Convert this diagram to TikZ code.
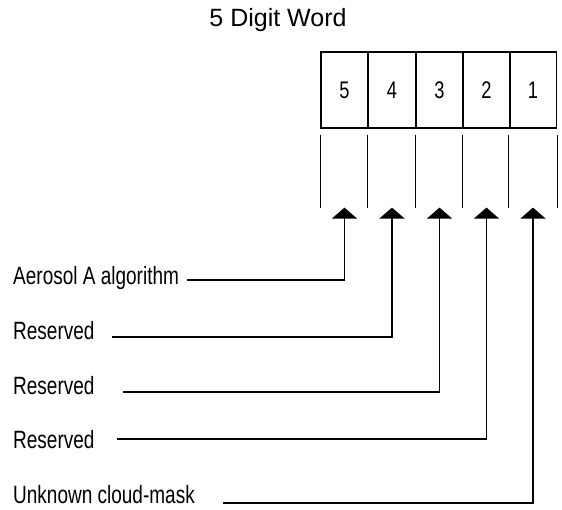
\documentclass[tikz,border=0pt]{standalone}
\usepackage{fontspec}
\setmainfont{Liberation Sans}
\newfontfamily\narrowsf[FakeStretch=0.76]{Liberation Sans}
\usetikzlibrary{positioning,arrows.meta}

\tikzset{
  digit/.style={rectangle, draw, line width=1.2pt, minimum width=47pt, minimum height=76pt, inner sep=0pt, font=\narrowsf\fontsize{24}{28}\selectfont},
  flag/.style={anchor=base west, inner sep=0pt, font=\narrowsf\fontsize{25}{29}\selectfont},
  lead/.style={line width=1.6pt, -{Triangle[width=25pt,length=11pt]}},
  bitline/.style={line width=1pt}
}

\begin{document}
\begin{tikzpicture}[x=1pt,y=1pt]
    \useasboundingbox (0,0) rectangle (562,-510);

    \node[font=\fontsize{25}{30}\selectfont] (title) at (278,-20) {5 Digit Word};

    % the five cells of the word
    \foreach \d/\x in {5/344.5,4/392,3/439.5,2/486.5,1/533}
      \node[digit] (c\d) at (\x,-90) {\d};

    \foreach \d in {5,4,3,2,1} {
      \draw[bitline] ([yshift=-6pt]c\d.south west) -- ++(0,-73);
      \coordinate (t\d) at ([yshift=-79pt]c\d.south);
    }
    \draw[bitline] ([yshift=-6pt]c1.south east) -- ++(0,-73);

    \node[flag] (l5) at (13,-285) {Aerosol A algorithm};
    \node[flag] (l4) at (13,-340) {Reserved};
    \node[flag] (l3) at (13,-395) {Reserved};
    \node[flag] (l2) at (13,-448) {Reserved};
    \node[flag] (l1) at (13,-503) {Unknown cloud-mask};

    \coordinate (s5) at (187,-280);
    \coordinate (s4) at (112,-337);
    \coordinate (s3) at (123,-392);
    \coordinate (s2) at (117,-439);
    \coordinate (s1) at (223,-503);

    \foreach \d in {5,4,3,2,1}
      \draw[lead] (s\d) -| (t\d);
\end{tikzpicture}
\end{document}
